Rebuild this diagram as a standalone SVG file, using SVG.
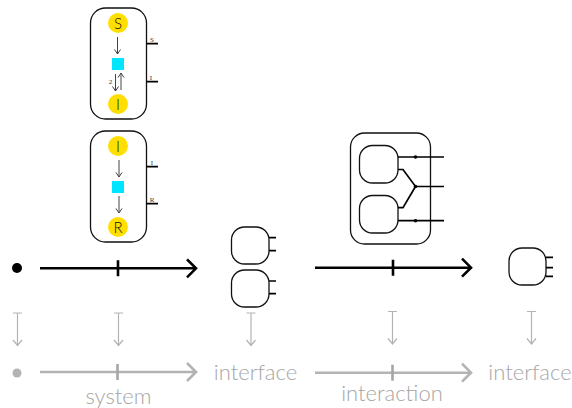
<svg xmlns="http://www.w3.org/2000/svg" width="572" height="408" viewBox="0 0 572 408">
<style>
.box{fill:#fff;stroke:#111;stroke-width:1.3}
.port{fill:none;stroke:#000;stroke-width:1.7}
.st{fill:#ffdf00}
.tr{fill:#00e5ff}
.lt{font-family:"Lato","Open Sans",sans-serif;font-weight:300;font-size:15px;fill:#111;text-anchor:middle}
.tiny{font-family:"Liberation Serif",serif;font-size:7px;fill:#333;text-anchor:middle}
.a{fill:none;stroke:#444;stroke-width:1}
.big{fill:none;stroke:#000;stroke-width:2.6}
.gbig{fill:none;stroke:#b3b3b3;stroke-width:2.6}
.gtick{fill:none;stroke:#a6a6a6;stroke-width:2.6}
.g{fill:none;stroke:#b3b3b3;stroke-width:1.2}
.gt{font-family:"Lato","Open Sans",sans-serif;font-weight:300;font-size:22px;fill:#a6a6a6;text-anchor:middle}
</style>
<defs>
<path id="dn" class="a" d="M-3 -4.500L0 0L3 -4.500M0 -17V0"/>
<path id="gm" class="g" d="M-4.500 0H4.500M0 0V32.500M-4.500 27L0 32.500L4.500 27"/>
<path id="bigarrow" d="M0 0H155.500M78 -8V8M147 -9L156 0L147 9"/>
<path id="shaft" d="M0 0H155.500M147 -9L156 0L147 9"/>
<path id="tick" d="M78 -8V8"/>
</defs>
<g id="sir-top">
<rect class="box" x="90.500" y="8" width="56" height="111" rx="15"/>
<circle class="st" cx="118" cy="23" r="10"/><text class="lt" x="118" y="28.500">S</text>
<rect class="tr" x="112" y="58" width="12" height="12"/>
<circle class="st" cx="118" cy="104" r="10"/><text class="lt" x="118" y="109.500">I</text>
<path class="port" d="M146.500 43.700H158M146.500 81.700H158"/>
<text class="tiny" x="152" y="42">S</text><text class="tiny" x="151" y="80">I</text>
<text class="tiny" x="110.500" y="84">2</text>
</g>
<g id="sir-bottom">
<rect class="box" x="90.500" y="131" width="56" height="111" rx="15"/>
<circle class="st" cx="118" cy="146" r="10"/><text class="lt" x="118" y="151.500">I</text>
<rect class="tr" x="112" y="181" width="12" height="12"/>
<circle class="st" cx="118" cy="227" r="10"/><text class="lt" x="118" y="232.500">R</text>
<path class="port" d="M146.500 166.700H158M146.500 203.700H158"/>
<text class="tiny" x="152" y="165">I</text><text class="tiny" x="152" y="202">R</text>
</g>
<g id="composite">
<rect class="box" x="350.500" y="133" width="80" height="111" rx="14"/>
<rect class="box" x="359.500" y="145.500" width="38.500" height="37.500" rx="13"/>
<rect class="box" x="359.500" y="195.500" width="38.500" height="37.500" rx="13"/>
<path class="port" d="M398 157H444M398 169.500H403L415.500 186.500H444M398 207.700H403L415.500 186.500M398 220.700H444"/>
<circle cx="415.500" cy="157" r="1.800"/><circle cx="415.500" cy="186.500" r="1.800"/><circle cx="415.500" cy="220.700" r="1.800"/>
</g>
<g id="point"><circle cx="17" cy="268" r="5"/></g>
<g id="iface-a">
<rect class="box" x="231.500" y="227" width="37.500" height="37" rx="13"/>
<path class="port" d="M269 237.700H276M269 250.700H276"/>
</g>
<g id="iface-b">
<rect class="box" x="231.500" y="270" width="37.500" height="37" rx="13"/>
<path class="port" d="M269 281H276M269 293.700H276"/>
</g>
<g id="iface-c">
<rect class="box" x="509" y="248" width="37" height="37" rx="13"/>
<path class="port" d="M546 257.300H553M546 267.700H553M546 276.300H553"/>
</g>
<g id="grey-point"><circle cx="17" cy="373" r="4.500" fill="#b3b3b3"/></g>
<g id="label-system"><text class="gt" x="118.500" y="404">system</text></g>
<g id="label-interface-1"><text class="gt" x="255.500" y="380">interface</text></g>
<g id="label-interaction"><text class="gt" x="392" y="401">interaction</text></g>
<g id="label-interface-2"><text class="gt" x="530" y="380">interface</text></g>
<g id="connectors">
<use href="#dn" x="117.500" y="54"/>
<use href="#dn" x="115.500" y="91"/>
<use href="#dn" transform="translate(121 73) rotate(180)"/>
<use href="#dn" x="119" y="177"/>
<use href="#dn" x="119" y="213"/>
<use href="#bigarrow" class="big" x="40" y="268.300"/>
<use href="#bigarrow" class="big" x="315" y="267.700"/>
<use href="#shaft" class="gbig" x="40" y="372"/>
<use href="#tick" class="gtick" x="39.500" y="372"/>
<use href="#shaft" class="gbig" x="315" y="372.700"/>
<use href="#tick" class="gtick" x="314.500" y="372.700"/>
<use href="#gm" x="17.500" y="313"/>
<use href="#gm" x="118.500" y="313"/>
<use href="#gm" x="251" y="313"/>
<use href="#gm" x="392.500" y="311.500"/>
<use href="#gm" x="531.500" y="311.500"/>
</g>
</svg>
